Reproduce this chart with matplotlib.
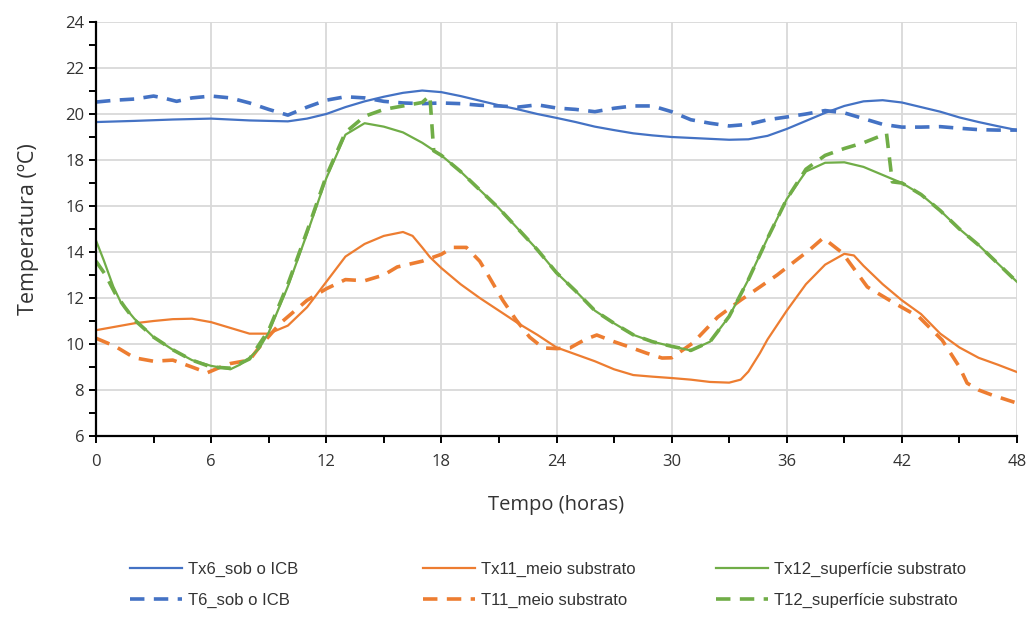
import matplotlib.pyplot as plt
from matplotlib.ticker import MultipleLocator

# ---- data ----
h_tx6 = [0, 2, 4, 6, 8, 10, 11, 12, 13, 14, 15, 16, 17, 18, 19, 20, 21, 22, 23, 24,
         25, 26, 27, 28, 29, 30, 31, 32, 33, 34, 35, 36, 37, 38, 39, 40, 41, 42, 43,
         44, 45, 46, 47, 48]
tx6 = [19.65, 19.7, 19.76, 19.8, 19.72, 19.68, 19.8, 20.0, 20.3, 20.55, 20.75, 20.92,
       21.02, 20.95, 20.78, 20.58, 20.38, 20.2, 20.0, 19.83, 19.65, 19.45, 19.3, 19.16,
       19.07, 19.0, 18.96, 18.92, 18.88, 18.9, 19.05, 19.35, 19.7, 20.05, 20.35, 20.55,
       20.6, 20.5, 20.3, 20.1, 19.85, 19.65, 19.47, 19.3]

h_t6 = [0, 1, 2, 3, 3.5, 4.2, 5, 6, 7, 8, 9, 10, 11, 12, 13, 14, 15, 16, 17, 18, 19,
        20, 21, 22, 23, 24, 25, 26, 27, 28, 29, 30, 31, 32, 33, 34, 35, 36, 37, 38,
        39, 40, 41, 42, 43, 44, 45, 46, 47, 48]
t6 = [20.52, 20.6, 20.65, 20.78, 20.7, 20.55, 20.7, 20.78, 20.7, 20.48, 20.2, 19.95,
      20.3, 20.6, 20.75, 20.7, 20.55, 20.48, 20.45, 20.48, 20.45, 20.38, 20.35, 20.3,
      20.4, 20.26, 20.2, 20.1, 20.25, 20.35, 20.35, 20.1, 19.75, 19.6, 19.48, 19.55,
      19.75, 19.87, 20.0, 20.15, 20.05, 19.8, 19.55, 19.43, 19.43, 19.45, 19.38,
      19.32, 19.3, 19.3]

h_tx11 = [0, 1, 2, 3, 4, 5, 6, 7, 8, 9, 10, 11, 12, 13, 14, 15, 16, 16.5, 17, 17.4,
          18, 19, 20, 21, 22, 23, 24, 25, 26, 27, 28, 29, 30, 31, 32, 33, 33.6, 34,
          34.6, 35, 36, 37, 38, 39, 39.5, 40, 41, 42, 43, 44, 45, 46, 47, 48]
tx11 = [10.6, 10.75, 10.9, 11.0, 11.08, 11.1, 10.95, 10.7, 10.45, 10.45, 10.8, 11.6,
        12.7, 13.8, 14.35, 14.7, 14.87, 14.7, 14.2, 13.78, 13.3, 12.6, 12.0, 11.45,
        10.9, 10.4, 9.85, 9.55, 9.25, 8.9, 8.65, 8.58, 8.52, 8.45, 8.35, 8.32, 8.45,
        8.8, 9.6, 10.2, 11.45, 12.6, 13.45, 13.92, 13.85, 13.4, 12.6, 11.9, 11.3,
        10.45, 9.85, 9.4, 9.1, 8.78]

h_t11 = [0, 1, 2, 3, 4, 5, 5.8, 6.5, 7, 8, 8.5, 9.6, 11, 12, 13, 14, 15, 15.7, 17,
         18, 18.6, 19.3, 20, 20.5, 21.2, 21.9, 22.6, 23.3, 24, 24.7, 25.5, 26.1, 27,
         27.8, 28.7, 29.5, 30, 31.1, 32.4, 33.6, 34.6, 35.5, 36.3, 37.2, 37.9, 38.9,
         40.2, 41.5, 42.9, 44.1, 45, 45.4, 46, 46.7, 48]
t11 = [10.25, 9.9, 9.4, 9.25, 9.3, 9.0, 8.75, 9.0, 9.15, 9.3, 9.85, 10.9, 11.9, 12.4,
       12.8, 12.75, 13.0, 13.35, 13.6, 13.9, 14.2, 14.2, 13.6, 12.9, 11.9, 11.04,
       10.3, 9.83, 9.8, 9.83, 10.2, 10.39, 10.1, 9.87, 9.6, 9.39, 9.4, 10.04, 11.17,
       11.91, 12.48, 13.0, 13.52, 14.1, 14.61, 13.96, 12.48, 11.83, 11.17, 10.17,
       9.0, 8.3, 8.0, 7.78, 7.43]

h_tx12 = [0, 0.4, 0.9, 1.3, 2, 3, 4, 5, 6, 7, 7.5, 8, 8.5, 9, 10, 11, 12, 13, 14, 15,
          16, 17, 18, 19, 20, 21, 22, 23, 24, 25, 26, 27, 28, 29, 30, 31, 32, 33, 34,
          35, 36, 37, 38, 39, 40, 41, 42, 43, 44, 45, 46, 47, 48]
tx12 = [14.5, 13.65, 12.5, 11.8, 11.1, 10.3, 9.75, 9.3, 9.05, 8.9, 9.1, 9.4, 9.8, 10.5,
        12.5, 14.8, 17.2, 19.1, 19.6, 19.45, 19.2, 18.75, 18.2, 17.5, 16.7, 15.9,
        15.0, 14.1, 13.1, 12.3, 11.45, 10.9, 10.4, 10.1, 9.9, 9.72, 10.1, 11.2, 12.8,
        14.6, 16.3, 17.5, 17.88, 17.9, 17.7, 17.35, 17.0, 16.5, 15.8, 15.0, 14.3,
        13.5, 12.7]

h_t12 = [0, 0.5, 1, 1.5, 2, 3, 4, 5, 6, 7, 8, 9, 10, 11, 12, 13, 14, 15, 16, 17,
         17.4, 17.6, 18, 19, 20, 21, 22, 23, 24, 25, 26, 27, 28, 29, 30, 31, 32, 33,
         34, 35, 36, 37, 38, 39, 40, 41.2, 41.5, 42, 43, 44, 45, 46, 47, 48]
t12 = [13.6, 13.0, 12.2, 11.6, 11.05, 10.3, 9.75, 9.3, 9.0, 8.95, 9.35, 10.6, 12.6,
       14.9, 17.3, 19.2, 19.9, 20.2, 20.35, 20.5, 20.8, 18.4, 18.2, 17.5, 16.7, 15.9,
       15.0, 14.1, 13.1, 12.3, 11.45, 10.9, 10.4, 10.1, 9.9, 9.72, 10.1, 11.2, 12.8,
       14.6, 16.3, 17.6, 18.2, 18.5, 18.75, 19.15, 17.05, 17.0, 16.5, 15.8, 15.0,
       14.3, 13.5, 12.7]

blue = '#4472C4'
orange = '#ED7D31'
green = '#70AD47'
txt = '#333333'

plt.rcParams['font.family'] = ['Open Sans', 'DejaVu Sans']

fig = plt.figure(figsize=(10.29, 6.17), dpi=100)
ax = fig.add_axes([96 / 1029, 1 - 436 / 617, (1017 - 96) / 1029, (436 - 22) / 617])

dash = (0, (4, 2.6))
l1, = ax.plot(h_tx6, tx6, color=blue, lw=1.6, label='Tx6_sob o ICB')
l2, = ax.plot(h_t6, t6, color=blue, lw=2.6, ls=dash, label='T6_sob o ICB')
l3, = ax.plot(h_tx11, tx11, color=orange, lw=1.6, label='Tx11_meio substrato')
l4, = ax.plot(h_t11, t11, color=orange, lw=2.6, ls=dash, label='T11_meio substrato')
l5, = ax.plot(h_tx12, tx12, color=green, lw=1.6, label='Tx12_superfície substrato')
l6, = ax.plot(h_t12, t12, color=green, lw=2.6, ls=dash, label='T12_superfície substrato')

ax.set_xlim(0, 48)
ax.set_ylim(6, 24)
ax.xaxis.set_major_locator(MultipleLocator(6))
ax.xaxis.set_minor_locator(MultipleLocator(3))
ax.yaxis.set_major_locator(MultipleLocator(2))
ax.yaxis.set_minor_locator(MultipleLocator(1))
ax.grid(True, which='major', color='#D9D9D9', lw=1.3)
ax.set_axisbelow(True)
for s in ['top', 'right']:
    ax.spines[s].set_visible(False)
for s in ['left', 'bottom']:
    ax.spines[s].set_color('black')
    ax.spines[s].set_linewidth(1.6)
ax.tick_params(which='both', direction='out', length=5, width=1.4, color='black',
               labelsize=12, labelcolor=txt)
ax.tick_params(axis='x', pad=8)

ax.set_xlabel('Tempo (horas)', fontsize=14.5, color=txt, labelpad=18)
ax.set_ylabel('Temperatura (ºC)', fontsize=15.5, color=txt, labelpad=19)

leg_font = {'family': ['Liberation Sans', 'DejaVu Sans'], 'size': 12}
for x0, hs in [(130, [l1, l2]), (423, [l3, l4]), (716, [l5, l6])]:
    lg = fig.legend(handles=hs, loc='upper left', bbox_to_anchor=(x0 / 1029, 0.090),
                    frameon=False, prop=leg_font, handlelength=3.1, handletextpad=0.4,
                    labelspacing=1.0, borderpad=0, borderaxespad=0)
    for t in lg.get_texts():
        t.set_color(txt)

fig.savefig('out.png', dpi=100)
